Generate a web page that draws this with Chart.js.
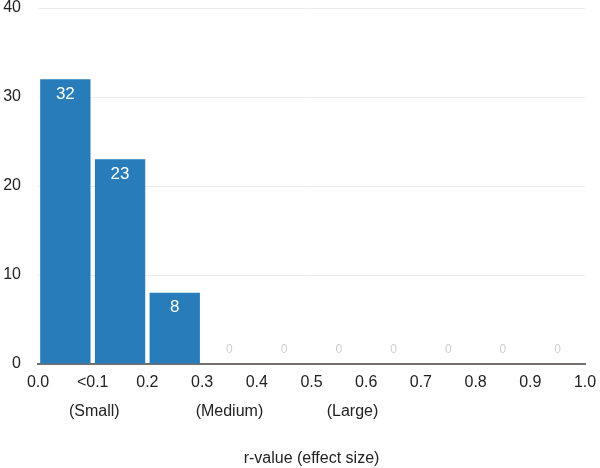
<!DOCTYPE html>
<html>
<head>
<meta charset="utf-8">
<script src="https://cdn.jsdelivr.net/npm/chart.js@4/dist/chart.umd.min.js"></script>
<style>
  html, body { margin: 0; padding: 0; background: #fff; }
  #wrap { width: 600px; height: 468px; position: relative; }
</style>
</head>
<body>
<div id="wrap"><canvas id="chart"></canvas></div>
<script>
// ============= Effect size histogram =============

// bin centres on the r-value axis and the count in each bin
const binCentres = [0.05, 0.15, 0.25, 0.35, 0.45, 0.55, 0.65, 0.75, 0.85, 0.95];
const counts = [32, 23, 8, 0, 0, 0, 0, 0, 0, 0];

// tick labels at the bin edges 0.0 ... 1.0
const xTickLabels = ['0.0', '<0.1', '0.2', '0.3', '0.4', '0.5', '0.6', '0.7', '0.8', '0.9', '1.0'];
// second row of labels under the axis (text, position on the r-value axis)
const sizeNames = ['(Small)', '(Medium)', '(Large)'];
const sizeAt = [0.103, 0.35, 0.575];

const yTicks = [0, 10, 20, 30, 40];

const FONT = '"Liberation Sans", Arial, Helvetica, sans-serif';
const BAR_COLOR = '#287cb9';

// value labels inside the bars (grey "0" for the empty bins)
const valueLabels = {
    id: 'valueLabels',
    afterDatasetsDraw(chart) {
        const ctx = chart.ctx;
        const meta = chart.getDatasetMeta(0);
        const yScale = chart.scales.y;
        ctx.save();
        ctx.textAlign = 'center';
        ctx.textBaseline = 'middle';
        meta.data.forEach((bar, i) => {
            const v = counts[i];
            if (v > 0) {
                ctx.fillStyle = '#ffffff';
                ctx.font = '17px ' + FONT;
                ctx.fillText(String(v), bar.x, bar.y + 15);
            } else {
                ctx.fillStyle = '#cfcfcf';
                ctx.font = '12px ' + FONT;
                ctx.fillText('0', bar.x, yScale.getPixelForValue(0) - 14);
            }
        });
        ctx.restore();
    }
};

// (Small) / (Medium) / (Large) row below the tick labels
const sizeRow = {
    id: 'sizeRow',
    afterDraw(chart) {
        const ctx = chart.ctx;
        const x = chart.scales.x;
        ctx.save();
        ctx.fillStyle = '#222';
        ctx.font = '16px ' + FONT;
        ctx.textAlign = 'center';
        ctx.textBaseline = 'middle';
        sizeNames.forEach((name, i) => {
            ctx.fillText(name, x.getPixelForValue(sizeAt[i]), x.top + 48);
        });
        ctx.restore();
    }
};

new Chart(document.getElementById('chart'), {
    type: 'bar',
    data: {
        datasets: [{
            data: binCentres.map((c, i) => ({ x: c, y: counts[i] })),
            backgroundColor: BAR_COLOR,
            borderWidth: 0,
            barPercentage: 0.92,
            categoryPercentage: 1
        }]
    },
    options: {
        responsive: true,
        maintainAspectRatio: false,
        animation: false,
        layout: { padding: 0 },
        plugins: { legend: { display: false }, tooltip: { enabled: false } },
        scales: {
            x: {
                type: 'linear',
                min: 0,
                max: 1,
                offset: false,
                afterBuildTicks: axis => { axis.ticks = xTickLabels.map((_, i) => ({ value: i / 10 })); },
                afterFit: axis => {
                    axis.height = 104;
                    axis.paddingLeft = 0;
                    axis.paddingRight = 15;
                },
                ticks: {
                    autoSkip: false,
                    maxRotation: 0,
                    padding: 9,
                    color: '#222',
                    font: { family: FONT, size: 16 },
                    callback: (val, idx) => xTickLabels[idx]
                },
                grid: { display: false, drawTicks: false },
                border: { display: true, color: '#75706b', width: 2 },
                title: {
                    display: true,
                    text: 'r-value (effect size)',
                    color: '#222',
                    font: { family: FONT, size: 16 },
                    padding: { top: 45, bottom: 0 }
                }
            },
            y: {
                min: 0,
                max: 40,
                afterBuildTicks: axis => { axis.ticks = yTicks.map(v => ({ value: v })); },
                afterFit: axis => {
                    axis.width = 38;
                    axis.paddingTop = 8;
                    axis.paddingBottom = 0;
                },
                ticks: {
                    padding: 17,
                    color: '#222',
                    font: { family: FONT, size: 16 }
                },
                grid: { color: '#ececec', lineWidth: 1, drawTicks: false },
                border: { display: false }
            }
        }
    },
    plugins: [valueLabels, sizeRow]
});
</script>
</body>
</html>
